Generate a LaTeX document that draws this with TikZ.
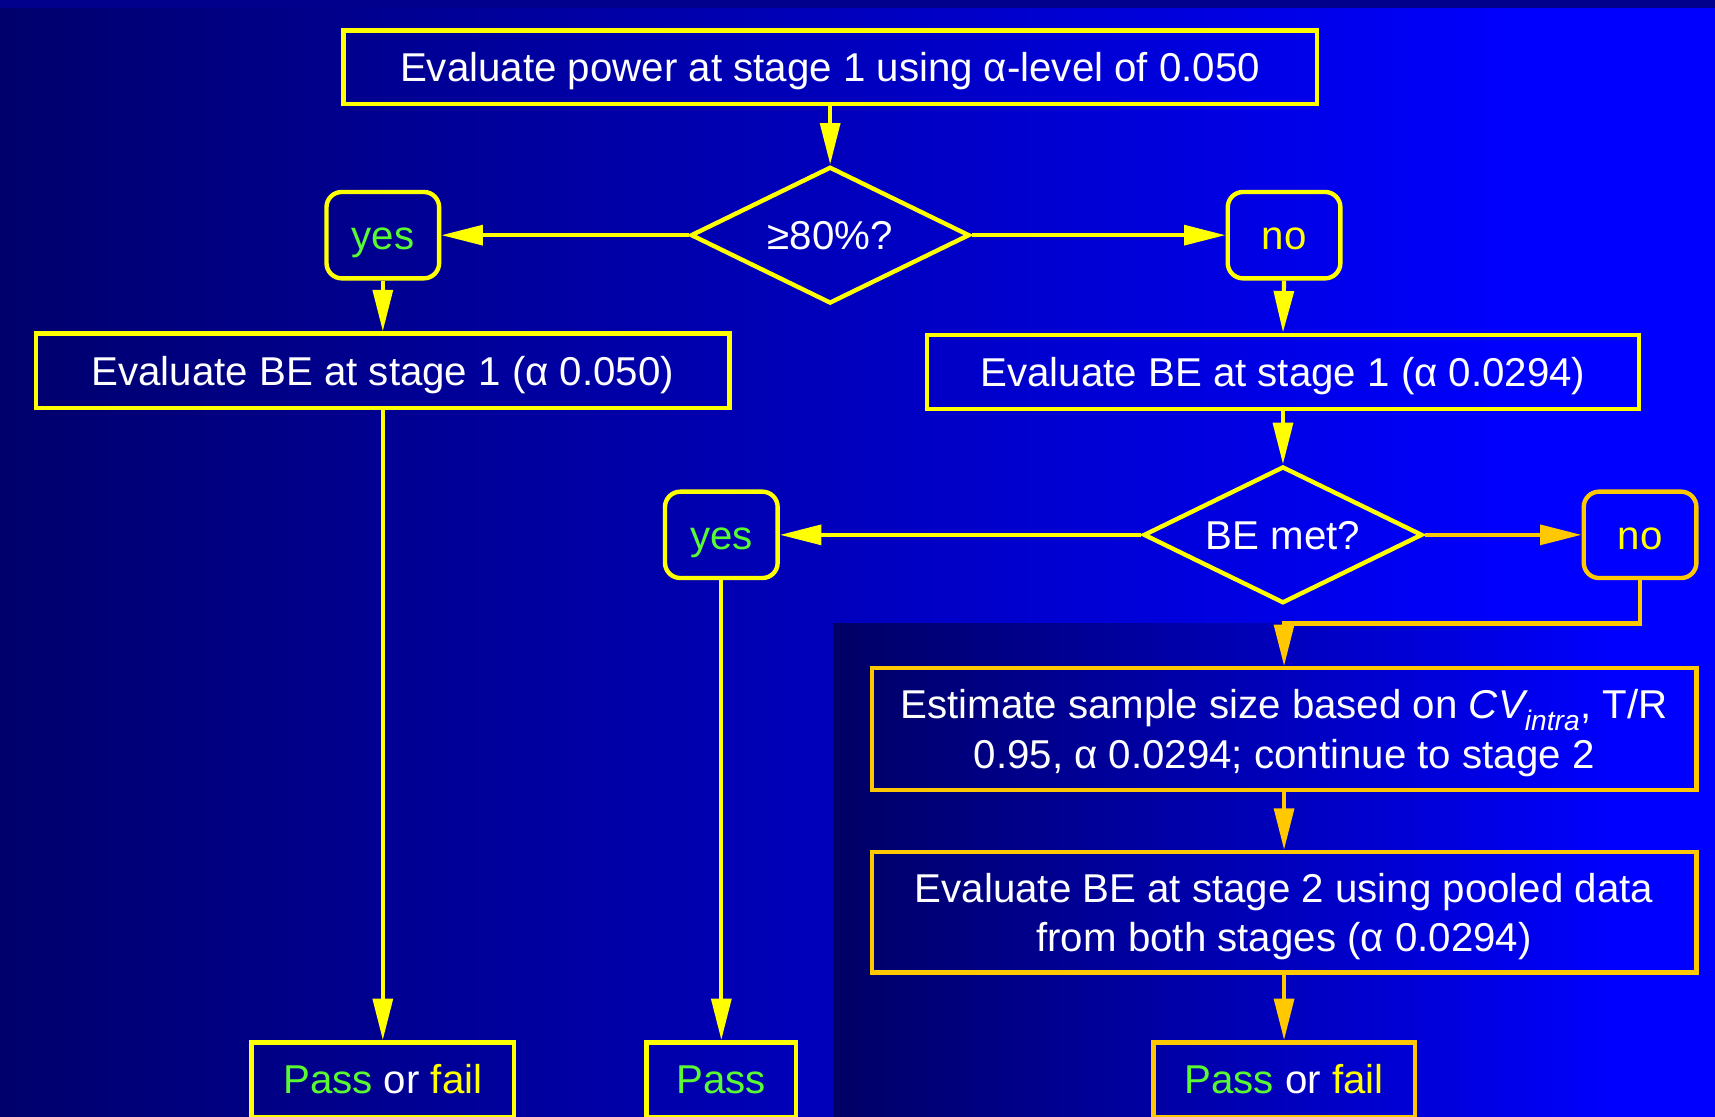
\documentclass[tikz,border=0pt]{standalone}
\usepackage{fontspec}
\setmainfont{Liberation Sans}
\usetikzlibrary{shapes.geometric,arrows.meta}
\definecolor{yel}{RGB}{255,255,0}
\definecolor{org}{RGB}{255,200,0}
\definecolor{grn}{RGB}{90,250,50}
\definecolor{navyL}{RGB}{0,0,108}
\definecolor{navyP}{RGB}{0,0,100}
\definecolor{blu}{RGB}{0,0,255}
\definecolor{band}{RGB}{0,0,140}
\begin{document}
\begin{tikzpicture}[x=1pt,y=-1pt,
  font=\fontsize{36.8}{45}\selectfont,
  box/.style={draw=yel, line width=4pt, text=white, inner sep=0pt, align=center},
  one/.style={text height=26pt, text depth=0pt},
  two/.style={text depth=0pt},
  obox/.style={box, draw=org},
  rbox/.style={draw=yel, line width=4pt, rounded corners=14pt, inner sep=0pt,
               minimum width=103pt, minimum height=79pt, one},
  dia/.style={diamond, draw=yel, line width=4pt, text=white, inner sep=0pt,
              aspect=2, minimum width=255pt, minimum height=125pt, one},
  conn/.style={draw=yel, line width=3.8pt, -{Triangle[length=38pt,width=18pt]}},
  oconn/.style={conn, draw=org}]
\useasboundingbox (0,0) rectangle (1568,1021);
\clip (0,0) rectangle (1568,1021);
% background
\shade[left color=navyL, right color=blu] (0,0) rectangle (1400,1021);
\fill[blu] (1399,0) rectangle (1568,1021);
\fill[band] (0,0) rectangle (1568,7);
% dark panel
\shade[left color=navyP, right color=blu] (762,570) rectangle (1480,1021);
\fill[blu] (1479,570) rectangle (1568,1021);

% nodes
\node[box, one, minimum width=890pt, minimum height=67pt] (top) at (759,61.5)
  {Evaluate power at stage 1 using α-level of 0.050};
\node[dia] (d1) at (759,215) {≥80\%?};
\node[rbox, text=grn] (yes1) at (350,215) {yes};
\node[rbox, text=yel] (no1) at (1174,215) {no};
\node[box, one, minimum width=634pt, minimum height=68pt] (be1) at (350,339)
  {Evaluate BE at stage 1 (α 0.050)};
\node[box, one, minimum width=651pt, minimum height=68pt] (be2) at (1173,340)
  {Evaluate BE at stage 1 (α 0.0294)};
\node[dia] (d2) at (1173,489) {BE met?};
\node[rbox, text=grn] (yes2) at (659.5,489) {yes};
\node[rbox, draw=org, text=yel] (no2) at (1499.5,489) {no};
\node[obox, two, minimum width=754pt, minimum height=111pt] (est) at (1174,666.5)
  {Estimate sample size based on {\itshape CV}\textsubscript{\itshape intra}, T/R\\
   0.95, α 0.0294; continue to stage 2};
\node[obox, two, minimum width=754pt, minimum height=110pt] (ev2) at (1174,834)
  {Evaluate BE at stage 2 using pooled data\\ from both stages (α 0.0294)};
\node[box, one, minimum width=240pt, minimum height=68pt] (pf1) at (350,987)
  {\textcolor{grn}{Pass} or \textcolor{yel}{fail}};
\node[box, one, minimum width=137pt, minimum height=68pt, text=grn] (pass) at (659.5,987)
  {Pass};
\node[obox, one, minimum width=239pt, minimum height=68pt] (pf2) at (1174,987)
  {\textcolor{grn}{Pass} or \textcolor{yel}{fail}};
\coordinate (c1) at (1174,570);

% connectors
\draw[conn] (top.south) -- (d1.north);
\draw[conn] (d1.west) -- (yes1.east);
\draw[conn] (d1.east) -- (no1.west);
\draw[conn] (yes1.south) -- (be1.north);
\draw[conn] (no1.south) -- (be2.north);
\draw[conn] (be1.south) -- (pf1.north);
\draw[conn] (be2.south) -- (d2.north);
\draw[conn] (d2.west) -- (yes2.east);
\draw[conn] (yes2.south) -- (pass.north);
\draw[oconn] (d2.east) -- (no2.west);
\draw[oconn] (no2.south) |- (c1) -- (est.north);
\draw[oconn] (est.south) -- (ev2.north);
\draw[oconn] (ev2.south) -- (pf2.north);
\end{tikzpicture}
\end{document}
